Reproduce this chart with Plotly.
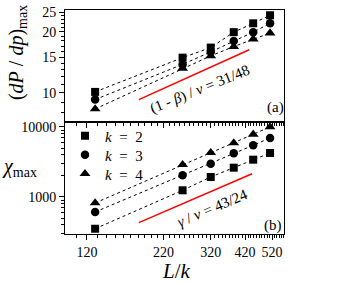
import plotly.graph_objects as go

# ---------------- data ----------------
L_over_k = [128, 256, 320, 384, 448, 512]

dPdp_k2 = [10.1, 14.9, 16.7, 19.9, 22.0, 24.1]
dPdp_k3 = [9.26, 13.8, 15.9, 18.0, 19.9, 22.0]
dPdp_k4 = [8.32, 13.2, 15.2, 16.9, 18.4, 19.7]

chi_k2 = [352, 1246, 1931, 2621, 3410, 4253]
chi_k3 = [611, 2042, 2990, 4210, 5476, 6964]
chi_k4 = [821, 2893, 4295, 5906, 7864, 10000]

guide_a_x = [181, 434]
guide_a_y = [9.26, 16.3]
guide_b_x = [181, 444]
guide_b_y = [430, 2150]

series_names = ["<i>k</i>\u2002=\u20022", "<i>k</i>\u2002=\u20023", "<i>k</i>\u2002=\u20024"]
x_ticks = [120, 220, 320, 420, 520]
x_minor = [v for v in range(100, 580, 10) if v not in x_ticks]
ya_ticks = [10, 15, 20, 25]
ya_minor = [7, 8, 9, 11, 12, 13, 14, 16, 17, 18, 19, 21, 22, 23, 24]
yb_ticks = [1000, 10000]
yb_minor = [300, 400, 500, 600, 700, 800, 900] + [v * 1000 for v in range(2, 10)]

FONT = "Times New Roman, Liberation Serif, DejaVu Serif, serif"
symbols = ["square", "circle", "triangle-up"]
sizes = [8, 8.5, 9.5]

fig = go.Figure()

for vals, sym, sz in zip([dPdp_k2, dPdp_k3, dPdp_k4], symbols, sizes):
    fig.add_trace(go.Scatter(x=L_over_k, y=vals, mode="lines+markers",
                             line=dict(color="black", width=1, dash="dot"),
                             marker=dict(symbol=sym, size=sz, color="black"),
                             xaxis="x", yaxis="y", showlegend=False))
for vals, sym, sz in zip([chi_k2, chi_k3, chi_k4], symbols, sizes):
    fig.add_trace(go.Scatter(x=L_over_k, y=vals, mode="lines+markers",
                             line=dict(color="black", width=1, dash="dot"),
                             marker=dict(symbol=sym, size=sz, color="black"),
                             xaxis="x2", yaxis="y2", showlegend=False))

fig.add_trace(go.Scatter(x=guide_a_x, y=guide_a_y, mode="lines",
                         line=dict(color="#ff0000", width=1.5),
                         xaxis="x", yaxis="y", showlegend=False))
fig.add_trace(go.Scatter(x=guide_b_x, y=guide_b_y, mode="lines",
                         line=dict(color="#ff0000", width=1.5),
                         xaxis="x2", yaxis="y2", showlegend=False))

legend_ids = ["legend", "legend2", "legend3"]
for name, sym, sz, lid in zip(series_names, symbols, sizes, legend_ids):
    fig.add_trace(go.Scatter(x=[None], y=[None], mode="markers", name=name,
                             marker=dict(symbol=sym, size=sz, color="black"),
                             xaxis="x2", yaxis="y2", showlegend=True, legend=lid))

xr = [2.0035, 2.7573]
common_x = dict(type="log", range=xr, showline=True, linecolor="black", linewidth=1,
                mirror=True, ticks="outside", ticklen=5, tickcolor="black",
                tickvals=x_ticks, showgrid=False, zeroline=False, automargin=False,
                minor=dict(tickvals=x_minor, ticks="outside", ticklen=3,
                           tickcolor="black", showgrid=False),
                tickfont=dict(family=FONT, size=14, color="black"))

leg_common = dict(x=0.0, xanchor="left", yanchor="middle", bgcolor="rgba(0,0,0,0)",
                  font=dict(family=FONT, size=15, color="black"), itemwidth=30)

fig.update_layout(
    width=350, height=282,
    margin=dict(l=65, r=66, t=10, b=48, autoexpand=False),
    paper_bgcolor="white", plot_bgcolor="white",
    font=dict(family=FONT, color="black"),
    xaxis=dict(common_x, anchor="y", domain=[0, 1], showticklabels=False, matches="x2"),
    yaxis=dict(type="log", domain=[0.5, 1], anchor="x", range=[0.856, 1.408],
               showline=True, linecolor="black", linewidth=1, mirror=True,
               ticks="outside", ticklen=5, tickcolor="black", tickvals=ya_ticks,
               showgrid=False, zeroline=False, automargin=False,
               minor=dict(tickvals=ya_minor, ticks="outside", ticklen=3,
                          tickcolor="black", showgrid=False),
               tickfont=dict(family=FONT, size=14, color="black")),
    xaxis2=dict(common_x, anchor="y2", domain=[0, 1], showticklabels=True),
    yaxis2=dict(type="log", domain=[0, 0.5], anchor="x2", range=[2.4714, 4.071],
                showline=True, linecolor="black", linewidth=1, mirror=True,
                ticks="outside", ticklen=5, tickcolor="black", tickvals=yb_ticks,
                ticktext=["1000", "10000"],
                showgrid=False, zeroline=False, automargin=False,
                minor=dict(tickvals=yb_minor, ticks="outside", ticklen=3,
                           tickcolor="black", showgrid=False),
                tickfont=dict(family=FONT, size=14, color="black")),
    legend=dict(leg_common, y=0.4375),
    legend2=dict(leg_common, y=0.3527),
    legend3=dict(leg_common, y=0.268),
    showlegend=True,
)

ann = [
    dict(text="(<i>dP</i> / <i>dp</i>)<sub>max</sub>", xref="paper", yref="paper",
         x=-0.219, y=0.808, textangle=-90, showarrow=False,
         font=dict(family=FONT, size=20), xanchor="center", yanchor="middle"),
    dict(text="<i>χ</i><sub>max</sub>", xref="paper", yref="paper",
         x=-0.21, y=0.295, showarrow=False,
         font=dict(family=FONT, size=20), xanchor="center", yanchor="middle"),
    dict(text="<i>L</i>/<i>k</i>", xref="paper", yref="paper",
         x=0.507, y=-0.165, showarrow=False,
         font=dict(family=FONT, size=21), xanchor="center", yanchor="middle"),
    dict(text="(1 - <i>β</i>) / <i>ν</i> = 31/48", xref="paper", yref="paper",
         x=0.616, y=0.645, textangle=-22, showarrow=False,
         font=dict(family=FONT, size=15), xanchor="center", yanchor="middle"),
    dict(text="<i>γ</i> / <i>ν</i> = 43/24", xref="paper", yref="paper",
         x=0.673, y=0.116, textangle=-23, showarrow=False,
         font=dict(family=FONT, size=15), xanchor="center", yanchor="middle"),
    dict(text="(a)", xref="paper", yref="paper", x=1.01, y=0.565,
         showarrow=False, font=dict(family=FONT, size=15),
         xanchor="right", yanchor="middle"),
    dict(text="(b)", xref="paper", yref="paper", x=1.002, y=0.04,
         showarrow=False, font=dict(family=FONT, size=15),
         xanchor="right", yanchor="middle"),
]
fig.update_layout(annotations=ann)

fig.write_html("out.html", config={"displayModeBar": False},
               post_script="document.body.style.margin='0';document.body.style.overflow='hidden';")
